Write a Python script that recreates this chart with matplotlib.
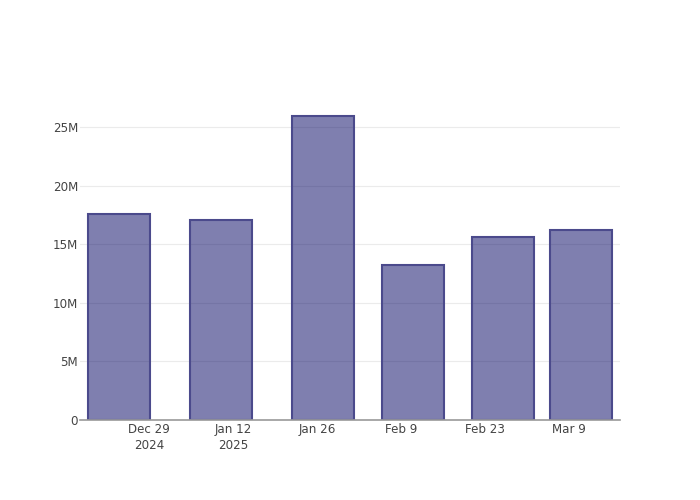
import numpy as np
import matplotlib
matplotlib.use('Agg')
import matplotlib.pyplot as plt
import matplotlib.dates as mdates
from matplotlib.ticker import FuncFormatter

dates = np.array(['2024-12-24', '2025-01-10', '2025-01-27', '2025-02-11',
                  '2025-02-26', '2025-03-11'], dtype='datetime64[D]')
values = [17.55e6, 17.05e6, 25.95e6, 13.2e6, 15.6e6, 16.2e6]

tick_dates = np.array(['2024-12-29', '2025-01-12', '2025-01-26', '2025-02-09',
                       '2025-02-23', '2025-03-09'], dtype='datetime64[D]')
tick_labels = ['Dec 29\n2024', 'Jan 12\n2025', 'Jan 26', 'Feb 9', 'Feb 23', 'Mar 9']

plt.rcParams['font.family'] = ['DejaVu Sans']
fs = 8.6

fig = plt.figure(figsize=(7, 5), dpi=100)
ax = fig.add_axes([80 / 700, 80 / 500, 540 / 700, 320 / 500])

x = mdates.date2num(dates.astype('datetime64[s]').astype(object))
gaps = np.diff(x)
width = gaps.min() * 0.8

ax.bar(x, values, width=width, color=(0, 0, 96 / 255, 0.5),
       edgecolor='#4b4a8c', linewidth=1.5, zorder=3)

pad = 1.3
ax.set_xlim(x[0] - width / 2 - pad, x[-1] + width / 2 + pad)
ax.set_ylim(0, max(values) * 1.052)

tx = mdates.date2num(tick_dates.astype('datetime64[s]').astype(object))
ax.set_xticks(tx)
ax.set_xticklabels(tick_labels, fontsize=fs, color='#444444', linespacing=1.3)

yt = [0, 5e6, 10e6, 15e6, 20e6, 25e6]
ax.set_yticks(yt)
ax.yaxis.set_major_formatter(FuncFormatter(lambda v, p: '0' if v == 0 else f'{v/1e6:.0f}M'))
ax.tick_params(axis='y', labelsize=fs, colors='#444444', length=0, pad=1.5)
ax.tick_params(axis='x', length=0, pad=2)

for v in yt[1:]:
    ax.axhline(v, color='#ebebeb', linewidth=0.8, zorder=1)

for s in ['top', 'right', 'left']:
    ax.spines[s].set_visible(False)
ax.spines['bottom'].set_color('#9a9a9a')
ax.spines['bottom'].set_linewidth(1.2)
ax.spines['bottom'].set_zorder(4)

fig.savefig('out.png', dpi=100, facecolor='white')
plt.close(fig)
